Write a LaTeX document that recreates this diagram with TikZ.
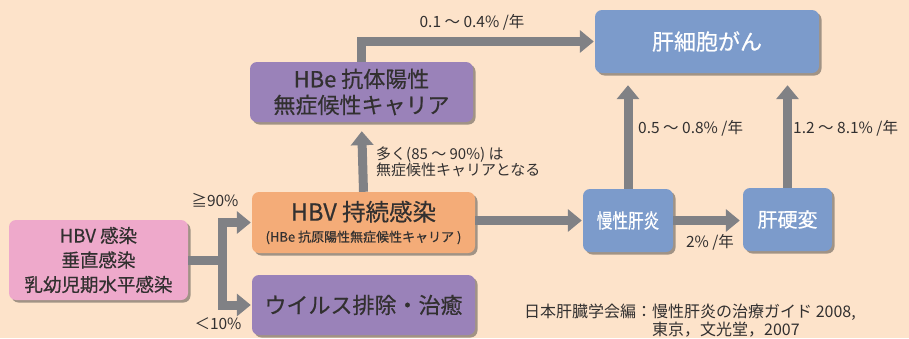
\documentclass[tikz,border=0pt]{standalone}
\usepackage{fontspec}
\setmainfont{Noto Sans CJK JP}
\newfontfamily\boxfont{Noto Sans CJK JP}[FakeBold=0.5]
\usetikzlibrary{arrows.meta,shadows}
\definecolor{bgpeach}{RGB}{253,227,202}
\definecolor{boxpink}{RGB}{238,169,203}
\definecolor{boxorange}{RGB}{244,172,120}
\definecolor{boxpurple}{RGB}{154,130,185}
\definecolor{boxblue}{RGB}{124,155,203}
\definecolor{arrgray}{RGB}{128,129,133}
\definecolor{txtgray}{RGB}{50,48,48}
\begin{document}
\begin{tikzpicture}[x=1pt,y=-1pt]

    \tikzset{
      box/.style={
        rounded corners=7pt,
        inner sep=0pt,
        align=center,
        text=txtgray,
        drop shadow={shadow xshift=2.5pt,shadow yshift=-2.5pt,opacity=0.45,fill=black!80},
      },
      flow/.style={
        draw=arrgray,
        line width=9pt,
        -{Triangle[length=14pt,width=22pt]},
      },
      bar/.style={
        draw=arrgray,
        line width=9pt,
      },
      rate/.style={
        text=txtgray,
        inner sep=0pt,
        font=\fontsize{15.5}{17}\selectfont,
      },
    }
    \useasboundingbox (0,0) rectangle (909,338);
    \fill[bgpeach] (0,0) rectangle (909,338);

	\node[box,fill=boxpink,minimum width=179pt,minimum height=80pt,font=\boxfont\fontsize{18.5}{24.5}\selectfont] (inf) at (98.5,260) {HBV 感染\\垂直感染\\乳幼児期水平感染};
	\node[box,fill=boxorange,minimum width=223pt,minimum height=61pt,font=\boxfont\fontsize{23.5}{21}\selectfont] (pers) at (363.5,222.5) {HBV 持続感染\\{\fontsize{13}{14}\selectfont (HBe 抗原陽性無症候性キャリア )}};
	\node[box,fill=boxpurple,minimum width=223pt,minimum height=60pt,font=\boxfont\fontsize{22}{26}\selectfont] (clear) at (363.5,305) {ウイルス排除・治癒};
	\node[box,fill=boxpurple,minimum width=223pt,minimum height=60pt,font=\boxfont\fontsize{22}{26}\selectfont] (hbe) at (361.5,92) {HBe 抗体陽性\\無症候性キャリア};
	\node[box,fill=boxblue,text=white,minimum width=224pt,minimum height=63pt,font=\boxfont\fontsize{22}{26}\selectfont] (hcc) at (707,41.5) {肝細胞がん};
	\node[box,fill=boxblue,text=white,minimum width=90pt,minimum height=63pt,font=\boxfont\fontsize{20}{24}\selectfont] (chr) at (628,220.5) {\scalebox{0.78}[1]{慢性肝炎}};
	\node[box,fill=boxblue,text=white,minimum width=89pt,minimum height=63pt,font=\boxfont\fontsize{20}{24}\selectfont] (cir) at (787.5,219.5) {肝硬変};

	\coordinate (fork) at (222,260);
	\draw[bar] (inf.east) -- (fork);
	\draw[flow,shorten >=1pt] (fork) |- (pers.west);
	\draw[flow,shorten >=1pt] (fork) |- (clear.west);
	\draw[flow,shorten >=9pt] (pers.north) -- (hbe.south);
	\draw[flow,shorten >=1pt] (hbe.north) |- (hcc.west);
	\draw[flow,shorten >=1pt] (pers.east |- chr.west) -- (chr.west);
	\draw[flow,shorten >=3pt] (chr.east) -- (chr.east -| cir.west);
	\draw[flow,shorten >=12pt] (chr.north) -- (chr.north |- hcc.south);
	\draw[flow,shorten >=12pt] (cir.north) -- (cir.north |- hcc.south);

	\node[rate] (p90) at (215,200) {≧90\%};
	\node[rate] (p10) at (218,324) {＜10\%};
	\node[rate] (r1) at (472,22) {0.1 ～ 0.4\% /年};
	\node[rate,anchor=west] (r2) at (638,128) {0.5 ～ 0.8\% /年};
	\node[rate,anchor=west] (r3) at (793,128) {1.2 ～ 8.1\% /年};
	\node[rate] (r4) at (710,242) {2\% /年};
	\node[rate,anchor=west,align=left,font=\fontsize{15}{15.5}\selectfont] (most) at (376,162) {多く(85 ～ 90\%) は\\無症候性キャリアとなる};
	\node[rate,anchor=west,font=\fontsize{16}{18}\selectfont] (cite1) at (524,312) {日本肝臓学会編：慢性肝炎の治療ガイド 2008,};
	\node[rate,anchor=west,font=\fontsize{16}{18}\selectfont] (cite2) at (652,330) {東京，文光堂，2007};

\end{tikzpicture}
\end{document}
